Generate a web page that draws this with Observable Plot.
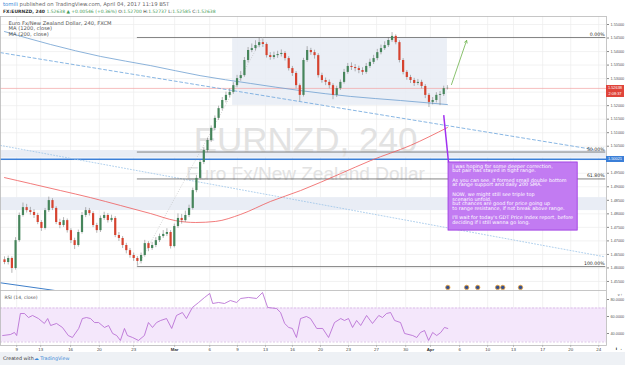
<!DOCTYPE html>
<html><head><meta charset="utf-8">
<script src="https://cdn.jsdelivr.net/npm/d3@7"></script>
<script src="https://cdn.jsdelivr.net/npm/@observablehq/plot@0.6"></script>
<style>
body{margin:0;width:625px;height:365px;position:relative;overflow:hidden;background:#fff;font-family:"DejaVu Sans",Verdana,sans-serif;}
.abs{position:absolute;white-space:nowrap;}
#hdr1{left:3px;top:0.5px;font-size:5.3px;color:#666;}
#hdr2{left:3px;top:8.5px;font-size:4.5px;color:#333;}
.g{color:#3f9b57;}
#price{left:0;top:16px;}
#rsi{left:0;top:290px;}
#foot{left:0;top:352px;width:625px;height:13px;background:#eef1f5;}
#foot span{position:absolute;top:3.5px;font-size:4.8px;}
.tag{position:absolute;left:606px;width:18px;height:6px;font-family:"Liberation Sans",Arial,sans-serif;font-size:3.9px;line-height:6px;text-align:center;color:#fff;}
</style></head><body>
<div id="hdr1" class="abs"><span style="color:#3a87d6">tomili</span> published on TradingView.com, April 04, 2017 11:19 BST</div>
<div id="hdr2" class="abs"><b>FX:EURNZD, 240</b> <span class="g">1.52638 ▲ +0.00546 (+0.36%)</span> O:<span class="g">1.52700</span> H:<span class="g">1.52737</span> L:<span class="g">1.52585</span> C:<span class="g">1.52638</span></div>
<div id="price" class="abs"></div>
<div id="rsi" class="abs"></div>
<div id="foot" class="abs"><span style="left:3px;color:#333">Created with</span><span style="left:34px;color:#3a87d6">&#9729; TradingView</span></div>
<script>
// ---- data ----
const firstOpen = 1.4630;
const closes = [1.4620,1.4635,1.4598,1.4701,1.4794,1.4823,1.4812,1.4805,1.4794,1.4768,
1.4746,1.4812,1.4849,1.4820,1.4768,1.4757,1.4775,1.4738,1.4701,1.4683,
1.4731,1.4794,1.4812,1.4801,1.4757,1.4738,1.4783,1.4794,1.4775,1.4783,
1.4720,1.4709,1.4683,1.4664,1.4646,1.4635,1.4624,1.4646,1.4690,1.4672,
1.4683,1.4701,1.4716,1.4724,1.4731,1.4679,1.4753,1.4783,1.4775,1.4794,
1.4820,1.4886,1.4931,1.4990,1.5034,1.5071,1.5116,1.5153,1.5189,1.5219,
1.5238,1.5249,1.5274,1.5300,1.5311,1.5367,1.5404,1.5411,1.5422,1.5433,
1.5426,1.5385,1.5378,1.5385,1.5389,1.5393,1.5374,1.5337,1.5319,1.5274,
1.5238,1.5367,1.5404,1.5396,1.5385,1.5311,1.5293,1.5286,1.5274,1.5238,
1.5263,1.5286,1.5323,1.5345,1.5341,1.5337,1.5330,1.5323,1.5345,1.5360,
1.5374,1.5396,1.5411,1.5422,1.5441,1.5456,1.5433,1.5367,1.5323,1.5304,
1.5293,1.5282,1.5286,1.5271,1.5238,1.5212,1.5219,1.5238,1.5241,1.5263,
1.5264];
const highs = [1.4641,1.4644,1.4641,1.4712,1.4803,1.4840,1.4835,1.4824,1.4815,1.4802,
1.4775,1.4820,1.4862,1.4856,1.4826,1.4780,1.4786,1.4781,1.4745,1.4710,
1.4740,1.4805,1.4823,1.4820,1.4808,1.4765,1.4792,1.4806,1.4801,1.4795,
1.4790,1.4731,1.4716,1.4691,1.4672,1.4655,1.4642,1.4655,1.4702,1.4697,
1.4694,1.4712,1.4725,1.4738,1.4745,1.4738,1.4762,1.4800,1.4798,1.4810,
1.4832,1.4895,1.4942,1.4998,1.5045,1.5080,1.5125,1.5162,1.5198,1.5230,
1.5250,1.5262,1.5285,1.5312,1.5326,1.5378,1.5415,1.5428,1.5440,1.5450,
1.5446,1.5432,1.5396,1.5398,1.5401,1.5406,1.5400,1.5381,1.5345,1.5326,
1.5280,1.5375,1.5418,1.5412,1.5405,1.5392,1.5320,1.5302,1.5295,1.5281,
1.5272,1.5295,1.5334,1.5356,1.5358,1.5352,1.5346,1.5340,1.5356,1.5372,
1.5386,1.5408,1.5424,1.5436,1.5452,1.5470,1.5462,1.5440,1.5374,1.5330,
1.5312,1.5301,1.5297,1.5294,1.5278,1.5245,1.5230,1.5248,1.5252,1.5272,
1.5274];
const lows = [1.4612,1.4611,1.4580,1.4592,1.4695,1.4788,1.4803,1.4795,1.4783,1.4760,
1.4735,1.4740,1.4805,1.4812,1.4760,1.4745,1.4750,1.4729,1.4690,1.4668,
1.4677,1.4725,1.4786,1.4792,1.4749,1.4728,1.4731,1.4776,1.4766,1.4768,
1.4712,1.4698,1.4672,1.4652,1.4636,1.4624,1.4607,1.4615,1.4640,1.4660,
1.4665,1.4675,1.4694,1.4709,1.4716,1.4670,1.4674,1.4746,1.4762,1.4768,
1.4786,1.4814,1.4878,1.4925,1.4982,1.5026,1.5064,1.5108,1.5145,1.5181,
1.5210,1.5229,1.5242,1.5266,1.5290,1.5305,1.5358,1.5396,1.5402,1.5414,
1.5415,1.5376,1.5368,1.5370,1.5375,1.5380,1.5365,1.5328,1.5308,1.5262,
1.5215,1.5232,1.5360,1.5386,1.5372,1.5302,1.5283,1.5274,1.5262,1.5222,
1.5230,1.5256,1.5280,1.5316,1.5330,1.5325,1.5318,1.5312,1.5316,1.5338,
1.5352,1.5366,1.5388,1.5404,1.5415,1.5434,1.5425,1.5358,1.5314,1.5294,
1.5282,1.5271,1.5274,1.5262,1.5226,1.5193,1.5203,1.5210,1.5200,1.5234,
1.5258];

// moving averages (bar index, value)
const ma1200Idx = [0,12.5,26,39.6,53,66.7,80,93.8,107.3,120];
const ma1200Val = [1.5474,1.5426,1.5382,1.5348,1.5311,1.5282,1.5256,1.5234,1.5219,1.5204];
const ma200Idx = [0,7,15.2,23.3,31.4,39.6,46.3,51.8,57.2,64,72.1,80.2,91.1,99.2,110,120];
const ma200Val = [1.4934,1.4912,1.4886,1.4860,1.4831,1.4801,1.4775,1.4768,1.4772,1.4798,1.4846,1.4886,1.4949,1.4997,1.5053,1.5119];

// RSI (bar index, value)
const rsiIdx = [-0.5,1.6,2.7,3.3,4.3,5.4,6.5,7.6,9.2,10.8,11.7,12.5,14.1,15.7,17.3,18.4,20.1,21.1,22.2,23.3,24.4,25.5,27.1,28.2,29.3,30.4,31.4,32.5,33.3,34.7,36.3,37.9,39.0,40.1,41.2,42.3,43.9,45.3,46.6,48.2,49.3,50.9,52.6,54.2,55.6,56.4,58.0,59.6,61.2,62.9,64.0,66.1,68.3,69.9,71.3,73.7,74.8,75.9,77.0,78.0,79.1,80.2,81.8,82.9,84.6,86.2,87.8,89.4,91.1,92.1,93.2,94.3,95.4,96.5,98.1,99.7,101.4,102.4,103.5,104.6,105.7,107.3,108.4,110.6,111.7,112.7,113.8,114.9,116.0,117.1,118.2,119.2,120.1];
const rsiVal = [37.6,38.8,41.2,37.6,63.5,63.5,58.8,61.2,57.6,51.8,57.6,49.4,51.8,47.1,37.6,35.3,45.9,57.6,58.8,57.6,52.9,52.9,47.1,49.4,40.0,37.6,31.8,45.9,37.6,35.3,31.8,37.6,52.9,47.1,52.9,55.3,57.6,45.9,61.2,64.7,57.6,70.6,76.5,82.4,87.1,75.3,76.5,75.3,78.8,76.5,81.2,82.4,81.2,88.2,70.6,69.4,64.7,51.8,47.1,45.9,35.3,57.6,60.0,57.6,45.9,45.9,35.3,52.9,57.6,55.3,57.6,47.1,55.3,49.4,61.2,51.8,61.2,58.8,63.5,64.7,55.3,52.9,40.0,37.6,35.3,41.2,43.5,31.8,41.2,37.6,41.2,47.1,45.9];

// time axis
const timeTickIdx = [3.3,9.8,17.9,25.7,35.0,46.1,55.6,63.1,70.7,78.0,85.6,93.2,100.8,108.7,115.4,123.3,130.9,137.9,145.8,153.4,161.0];
const timeTickLabels = ["9","13","16","20","23","Mar","6","9","13","16","20","23","27","30","Apr","6","10","13","17","20","24"];
const monthLabels = ["Mar","Apr"];
const priceTicks = [1.455,1.46,1.465,1.47,1.475,1.48,1.485,1.49,1.495,1.5,1.505,1.51,1.515,1.52,1.525,1.53,1.535,1.54,1.545,1.55];
const rsiTicks = [40,60,80];

// drawings
const fibLevels = [1.5452,1.50285,1.4929,1.4605];
const fibLabels = ["0.00%","50.00%","61.80%","100.00%"];
const fibStartIdx = 36, fibEndIdx = 162.9, fibTopIdx = 69.9;
const rangeBox = {i1:61.8, i2:120, p1:1.5201, p2:1.5452};
const zoneBands = [[1.4812,1.4860],[1.5006,1.5034]];
const supportLine = 1.50021;
const lastPrice = 1.52638;
const countdown = "2:08:37";
const dashedTrend = [{i:-1.08,p:1.5396},{i:159.5,p:1.5038}];
const dottedTrend = [{i:-1.08,p:1.5053},{i:162.3,p:1.4642}];
const lowerTrend = [{i:-1.08,p:1.4545},{i:14.5,p:1.4515}];
const greenArrow = {i1:121.1,p1:1.5278,i2:125.2,p2:1.5441};
const callout = {i1:120.3,i2:155.3,p1:1.4738,p2:1.4990, li:119.0, lp:1.5165, ti:121.3, tp:1.4983};
const calloutText = "I was hoping for some deeper correction,\nbut pair has stayed in tight range.\n\nAs you can see, it formed small double bottom\nat range support and daily 200 SMA.\n\nNOW, we might still see triple top\nscenario unfold,\nbut chances are good for price going up\nto range resistance, if not break above range.\n\nI'll wait for today's GDT Price Index report, before\ndeciding if I still wanna go long.";
const eventIdx = [120.1,125.2,128.2,133.6,135.0,139.8];
const eventPrice = 1.4528;
const legendLines = ["Euro Fx/New Zealand Dollar, 240, FXCM","MA (1200, close)","MA (200, close)"];

// ---- build ----
const candles = closes.map((c,i)=>({i, open: i===0?firstOpen:closes[i-1], close:c, high:highs[i], low:lows[i]}));
const ma1200 = ma1200Idx.map((i,k)=>({i, v:ma1200Val[k]}));
const ma200 = ma200Idx.map((i,k)=>({i, v:ma200Val[k]}));
const rsi = rsiIdx.map((i,k)=>({i, v:rsiVal[k]}));
const xDomain = [-1.084, 163.1];
const tickFont = "Liberation Sans, Arial, sans-serif";
const textFont = "DejaVu Sans, Verdana, sans-serif";
const up = "#46855b", down = "#d6432f";
const labelTicks = priceTicks.filter(t => Math.abs(t-lastPrice) > 0.002 && Math.abs(t-supportLine) > 0.002);

const priceChart = Plot.plot({
  width:625, height:274, marginLeft:0, marginRight:19, marginTop:0, marginBottom:0,
  style:{background:"transparent", fontFamily:textFont, fontSize:"4px"},
  x:{type:"linear", domain:xDomain, axis:null},
  y:{type:"linear", domain:[1.45166,1.55296], axis:null},
  marks:[
    Plot.ruleX(timeTickIdx, {stroke:"#ececec", strokeWidth:0.7}),
    Plot.ruleY(priceTicks, {stroke:"#ececec", strokeWidth:0.7}),
    Plot.rect(zoneBands, {y1:d=>d[0], y2:d=>d[1], fill:"#e9edf5"}),
    Plot.rect([rangeBox], {x1:"i1", x2:"i2", y1:"p1", y2:"p2", fill:"#e8ecf5", fillOpacity:0.85}),
    Plot.text(["EURNZD, 240"], {frameAnchor:"middle", dx:2, dy:-13, fontSize:35, fontFamily:tickFont, fill:"#e2e2e2"}),
    Plot.text(["Euro Fx/New Zealand Dollar"], {frameAnchor:"middle", dx:2, dy:20, fontSize:19, fontFamily:tickFont, fill:"#e2e2e2"}),
    Plot.ruleY([supportLine], {stroke:"#3b7fd8", strokeWidth:1.4}),
    Plot.ruleY([lastPrice], {stroke:"#f2a2a2", strokeWidth:0.7}),
    Plot.line(dottedTrend, {x:"i", y:"p", stroke:"#9cc4e8", strokeWidth:0.8, strokeDasharray:"1,2"}),
    Plot.line(dashedTrend, {x:"i", y:"p", stroke:"#6aa3dc", strokeWidth:0.8, strokeDasharray:"3,2.5"}),
    Plot.line(lowerTrend, {x:"i", y:"p", stroke:"#3f7fc9", strokeWidth:1, clip:true}),
    Plot.ruleY(fibLevels, {x1:fibStartIdx, x2:fibEndIdx, stroke:"#666", strokeWidth:0.8}),
    Plot.text(fibLevels, {x:fibEndIdx, y:d=>d, text:(d,k)=>fibLabels[k], textAnchor:"end", dx:-1, dy:-3, fontSize:4.7, fill:"#333"}),
    Plot.link([{a:fibStartIdx, b:fibLevels[3], c:fibTopIdx, d:fibLevels[0]}], {x1:"a", y1:"b", x2:"c", y2:"d", stroke:"#bbb", strokeWidth:0.6, strokeDasharray:"1,1.5"}),
    Plot.line(ma1200, {x:"i", y:"v", stroke:"#6f9fd0", strokeWidth:0.8, curve:"monotone-x"}),
    Plot.line(ma200, {x:"i", y:"v", stroke:"#ef5a5a", strokeWidth:0.8, curve:"monotone-x"}),
    Plot.ruleX(candles, {x:"i", y1:"low", y2:"high", stroke:"#6d6d6d", strokeWidth:0.5}),
    Plot.ruleX(candles, {x:"i", y1:"open", y2:"close", stroke:d=>d.close>=d.open?up:down, strokeWidth:2.2}),
    Plot.arrow([greenArrow], {x1:"i1", y1:"p1", x2:"i2", y2:"p2", stroke:"#6cb34a", strokeWidth:0.8, headLength:5}),
    Plot.link([callout], {x1:"li", y1:"lp", x2:"i1", y2:"p2", stroke:"#a030f0", strokeWidth:1.5}),
    Plot.rect([callout], {x1:"i1", x2:"i2", y1:"p1", y2:"p2", fill:"#c27bf2", stroke:"#9a34e0", strokeWidth:0.8}),
    Plot.text([callout], {x:"ti", y:"tp", text:()=>calloutText, textAnchor:"start", lineAnchor:"top", fontSize:4.9, lineHeight:0.96, fill:"#fff"}),
    Plot.dot(eventIdx, {x:d=>d, y:()=>eventPrice, r:2.2, fill:"#35508f", stroke:"#f0a63a", strokeWidth:0.8}),
    Plot.text(legendLines, {frameAnchor:"top-left", dx:4, text:d=>d, fontSize:5.2, fill:"#555"}),
    Plot.axisY(labelTicks, {anchor:"right", tickFormat:d=>d.toFixed(5), tickSize:2, tickPadding:2, fontSize:3.8, fontFamily:tickFont, fill:"#555", stroke:"#888"}),
    Plot.frame({stroke:"#b8b8b8", strokeWidth:0.8})
  ]
});
document.getElementById("price").appendChild(priceChart);
// stack the three legend lines
{
  const groups = priceChart.querySelectorAll("g[aria-label=text]");
  groups.forEach(g => {
    const ts = g.querySelectorAll("text");
    if (ts.length === legendLines.length && ts[0].textContent === legendLines[0]) {
      ts.forEach((t,k)=>t.setAttribute("transform", `translate(4,${4.5+k*5.5})`));
    }
  });
}
const ys = priceChart.scale("y");
function tag(value, text, bg, dy){
  const d = document.createElement("div");
  d.className = "tag";
  d.style.top = (16 + ys.apply(value) - 3 + dy) + "px";
  d.style.background = bg;
  d.textContent = text;
  document.body.appendChild(d);
}
tag(lastPrice, lastPrice.toFixed(5), "#e0443a", 0);
tag(lastPrice, countdown, "#e0443a", 6);
tag(supportLine, supportLine.toFixed(5), "#3b7fd8", 0);

const rsiChart = Plot.plot({
  width:625, height:62, marginLeft:0, marginRight:19, marginTop:0, marginBottom:7,
  style:{background:"transparent", fontFamily:tickFont, fontSize:"4px"},
  x:{type:"linear", domain:xDomain, axis:null},
  y:{type:"linear", domain:[25.88,90.59], axis:null},
  marks:[
    Plot.ruleX(timeTickIdx, {stroke:"#ececec", strokeWidth:0.7}),
    Plot.rect([[30,70]], {y1:d=>d[0], y2:d=>d[1], fill:"#f4e7fb"}),
    Plot.ruleY([30,70], {stroke:"#c9a3dc", strokeWidth:0.6, strokeDasharray:"2,1.5"}),
    Plot.line(rsi, {x:"i", y:"v", stroke:"#b363d0", strokeWidth:0.8}),
    Plot.text(["RSI (14, close)"], {frameAnchor:"top-left", dx:4, dy:5, fontSize:4.6, fontFamily:textFont, fill:"#555"}),
    Plot.axisY(rsiTicks, {anchor:"right", tickFormat:d=>d.toFixed(4), tickSize:2, tickPadding:2, fontSize:3.8, fill:"#555", stroke:"#888"}),
    Plot.axisX(timeTickIdx.filter((d,k)=>!monthLabels.includes(timeTickLabels[k])), {anchor:"bottom", tickFormat:d=>timeTickLabels[timeTickIdx.indexOf(d)], tickSize:1.5, tickPadding:1, fontSize:4.4, fill:"#444", stroke:"#888"}),
    Plot.axisX(timeTickIdx.filter((d,k)=>monthLabels.includes(timeTickLabels[k])), {anchor:"bottom", tickFormat:d=>timeTickLabels[timeTickIdx.indexOf(d)], tickSize:1.5, tickPadding:1, fontSize:4.4, fontWeight:"bold", fill:"#333", stroke:"#888"}),
    Plot.frame({stroke:"#b8b8b8", strokeWidth:0.8})
  ]
});
document.getElementById("rsi").appendChild(rsiChart);
</script>
</body></html>
